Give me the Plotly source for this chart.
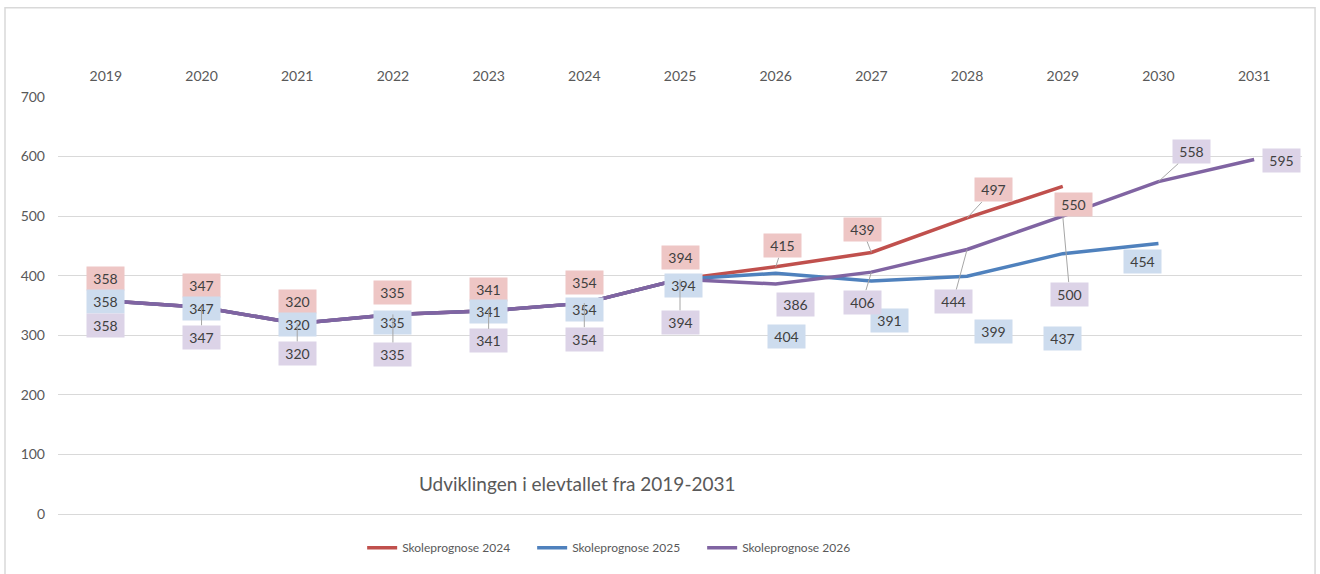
import plotly.graph_objects as go

years = ["2019", "2020", "2021", "2022", "2023", "2024", "2025",
         "2026", "2027", "2028", "2029", "2030", "2031"]
prognose_2024 = [358, 347, 320, 335, 341, 354, 394, 415, 439, 497, 550]
prognose_2025 = [358, 347, 320, 335, 341, 354, 394, 404, 391, 399, 437, 454]
prognose_2026 = [358, 347, 320, 335, 341, 354, 394, 386, 406, 444, 500, 558, 595]
series_names = ["Skoleprognose 2024", "Skoleprognose 2025", "Skoleprognose 2026"]

# pixel offsets of the data labels (box centre relative to the point) + leader line on/off
off_2024 = [(0, -22), (0, -22), (0, -22), (0, -22), (0, -21), (0, -21), (0, -22),
            (7, -21), (-9, -23), (26, -28), (11, 18)]
lead_2024 = [0, 0, 0, 0, 0, 0, 0, 1, 1, 1, 0]
off_2025 = [(0, 1), (0, 1), (0, 1), (0, 8), (0, 1), (0, 6), (3, 6),
            (11, 63), (18, 39), (26, 55), (0, 85), (-16, 18)]
lead_2025 = [0] * 12
off_2026 = [(0, 25), (0, 30), (0, 30), (0, 40), (0, 30), (0, 36), (0, 43),
            (20, 20), (-9, 30), (-14, 52), (7, 78), (33, -30), (27, 1)]
lead_2026 = [0, 1, 1, 1, 1, 1, 1, 0, 1, 1, 1, 1, 0]

line_colors = ["#C0504D", "#4F81BD", "#8064A2"]
box_colors = ["#EEC6C5", "#CDDCEE", "#DCD3E7"]
FONT = "Lato, 'Open Sans', sans-serif"

fig = go.Figure()
all_series = [prognose_2024, prognose_2025, prognose_2026]
all_off = [off_2024, off_2025, off_2026]
all_lead = [lead_2024, lead_2025, lead_2026]

for name, vals, col in zip(series_names, all_series, line_colors):
    fig.add_trace(go.Scatter(
        x=years[:len(vals)], y=vals, name=name, mode="lines",
        line=dict(color=col, width=3.5),
    ))

for vals, offs, leads, bcol in zip(all_series, all_off, all_lead, box_colors):
    for i, v in enumerate(vals):
        dx, dy = offs[i]
        # category axis: annotation x given as category index
        fig.add_annotation(
            x=i, y=v, xref="x", yref="y",
            text=str(v), showarrow=True, ax=dx, ay=dy,
            arrowhead=0, arrowwidth=1,
            arrowcolor="#A6A6A6" if leads[i] else "rgba(0,0,0,0)",
            bgcolor=bcol, width=35, height=21, borderpad=1,
            font=dict(family=FONT, size=14, color="#404040"),
        )

fig.add_annotation(
    x=0.418, y=0.040, xref="paper", yref="paper", showarrow=False,
    text="Udviklingen i elevtallet fra 2019-2031",
    font=dict(family=FONT, size=19, color="#595959"),
)

# outer chart border
fig.add_shape(type="rect", xref="paper", yref="paper",
              x0=-0.0426, x1=1.0105, y0=-0.2, y1=1.214,
              line=dict(color="#D9D9D9", width=1.5), layer="below")

fig.update_layout(
    width=1320, height=574,
    margin=dict(l=58, r=18, t=97, b=57),
    plot_bgcolor="white", paper_bgcolor="white",
    font=dict(family=FONT, size=13, color="#595959"),
    showlegend=True,
    legend=dict(orientation="h", x=0.2445, xanchor="left", y=-0.081, yanchor="middle",
                font=dict(size=12, color="#595959"), itemwidth=30, entrywidth=125,
                traceorder="normal"),
    xaxis=dict(side="top", type="category", range=[-0.5, 12.5],
               showgrid=False, showline=False, ticks="", ticklabelstandoff=12,
               tickfont=dict(size=14, color="#595959")),
    yaxis=dict(range=[0, 700], dtick=100, showgrid=True, gridcolor="#D9D9D9",
               gridwidth=1.3, zeroline=True, zerolinecolor="#D9D9D9", zerolinewidth=1.3,
               showline=False, ticks="", ticklabelstandoff=12,
               tickfont=dict(size=14, color="#595959")),
)

fig.write_html("out.html", config={"displayModeBar": False},
               post_script="document.body.style.margin='0';")
